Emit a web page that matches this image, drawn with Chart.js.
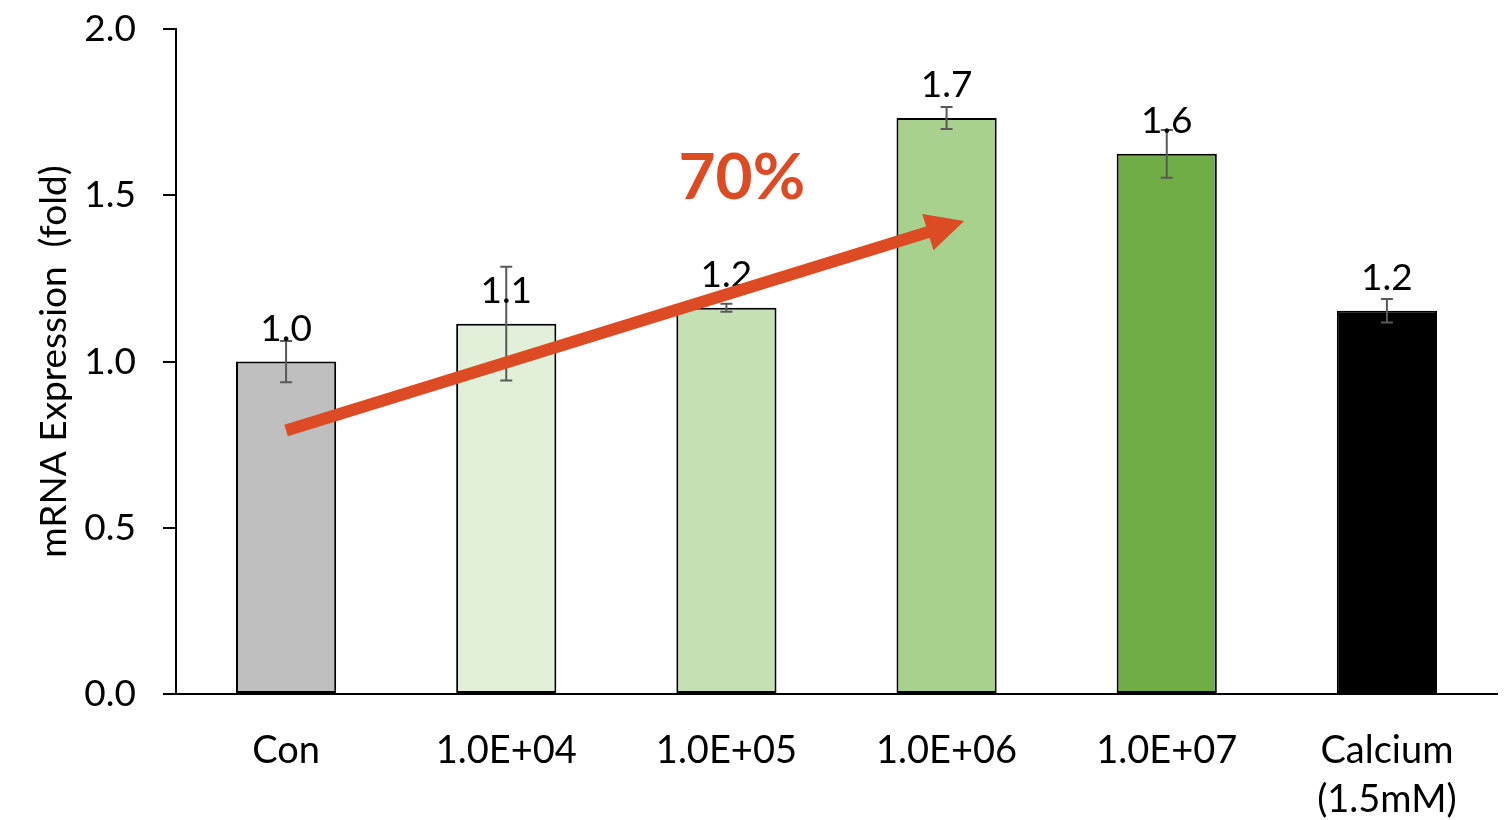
<!DOCTYPE html>
<html>
<head>
<meta charset="utf-8">
<script src="https://cdn.jsdelivr.net/npm/chart.js@4.4.1/dist/chart.umd.min.js"></script>
<style>
  html, body { margin: 0; padding: 0; background: #fff; overflow: hidden; }
  #frame { width: 1510px; height: 820px; overflow: hidden; position: relative; }
  #wrap { width: 1510px; height: 840px; position: absolute; top: -20px; left: 0; }
</style>
</head>
<body>
<div id="frame"><div id="wrap"><canvas id="chart"></canvas></div></div>
<script>
// ---------------------------------------------------------------------------
// Data
// ---------------------------------------------------------------------------
const categories = ['Con', '1.0E+04', '1.0E+05', '1.0E+06', '1.0E+07', ['Calcium', '(1.5mM)']];
const values = [1.0, 1.114, 1.162, 1.733, 1.625, 1.153];
const errors = [0.062, 0.171, 0.012, 0.033, 0.072, 0.035];
const barColors = ['#bfbfbf', '#e2efd9', '#c5e0b3', '#a9d18e', '#70ad47', '#000000'];
const yTicks = [0, 0.5, 1.0, 1.5, 2.0];

// annotation: arrow from Con to 1.0E+06, in (category index, value)
const arrowFrom = [0, 0.793];
const arrowTo = [3.08, 1.423];
const arrowLabel = '70%';
const arrowLabelAt = [2.07, 1.55];

const FONT = 'Lato, "Noto Sans", sans-serif';
const ORANGE = '#dd4b24';

// ---------------------------------------------------------------------------
// Plugins: error bars, value labels, arrow annotation
// ---------------------------------------------------------------------------
const errorBarPlugin = {
    id: 'errorBars',
    afterDatasetsDraw(chart) {
        const { ctx, scales: { x, y } } = chart;
        ctx.save();
        ctx.strokeStyle = '#595959';
        ctx.lineWidth = 2;
        values.forEach((v, i) => {
            const cx = x.getPixelForValue(i);
            const top = y.getPixelForValue(v + errors[i]);
            const bot = y.getPixelForValue(v - errors[i]);
            ctx.beginPath();
            ctx.moveTo(cx, top); ctx.lineTo(cx, bot);
            ctx.moveTo(cx - 6, top); ctx.lineTo(cx + 6, top);
            ctx.moveTo(cx - 6, bot); ctx.lineTo(cx + 6, bot);
            ctx.stroke();
        });
        ctx.restore();
    }
};

const valueLabelPlugin = {
    id: 'valueLabels',
    afterDatasetsDraw(chart) {
        const { ctx } = chart;
        const meta = chart.getDatasetMeta(0);
        ctx.save();
        ctx.fillStyle = '#000';
        ctx.font = '37px ' + FONT;
        ctx.textAlign = 'center';
        ctx.textBaseline = 'alphabetic';
        meta.data.forEach((bar, i) => {
            ctx.fillText(values[i].toFixed(1), bar.x, bar.y - 21);
        });
        ctx.restore();
    }
};

const arrowPlugin = {
    id: 'arrow',
    afterDraw(chart) {
        const { ctx, scales: { x, y } } = chart;
        const x0 = x.getPixelForValue(arrowFrom[0]);
        const y0 = y.getPixelForValue(arrowFrom[1]);
        const x1 = x.getPixelForValue(arrowTo[0]);
        const y1 = y.getPixelForValue(arrowTo[1]);
        const ang = Math.atan2(y1 - y0, x1 - x0);
        const headLen = 38, headW = 19;
        const bx = x1 - headLen * Math.cos(ang);
        const by = y1 - headLen * Math.sin(ang);
        ctx.save();
        ctx.strokeStyle = ORANGE;
        ctx.fillStyle = ORANGE;
        ctx.lineWidth = 12;
        ctx.beginPath();
        ctx.moveTo(x0, y0);
        ctx.lineTo(bx + 4 * Math.cos(ang), by + 4 * Math.sin(ang));
        ctx.stroke();
        ctx.beginPath();
        ctx.moveTo(x1, y1);
        ctx.lineTo(bx + headW * Math.sin(ang), by - headW * Math.cos(ang));
        ctx.lineTo(bx - headW * Math.sin(ang), by + headW * Math.cos(ang));
        ctx.closePath();
        ctx.fill();

        ctx.font = 'bold 64px ' + FONT;
        ctx.textAlign = 'center';
        ctx.textBaseline = 'middle';
        ctx.fillText(arrowLabel, x.getPixelForValue(arrowLabelAt[0]), y.getPixelForValue(arrowLabelAt[1]));
        ctx.restore();
    }
};

// ---------------------------------------------------------------------------
// Chart
// ---------------------------------------------------------------------------
new Chart(document.getElementById('chart'), {
    type: 'bar',
    data: {
        labels: categories,
        datasets: [{
            data: values,
            backgroundColor: barColors,
            borderColor: '#000',
            borderWidth: 2,
            borderSkipped: false,
            barPercentage: 0.455,
            categoryPercentage: 1.0,
        }],
    },
    options: {
        responsive: true,
        maintainAspectRatio: false,
        animation: false,
        layout: { padding: { top: 8, right: 13, left: 0, bottom: 0 } },
        plugins: {
            legend: { display: false },
            tooltip: { enabled: false },
        },
        scales: {
            x: {
                grid: { display: false, drawTicks: false },
                border: { color: '#000', width: 2 },
                ticks: {
                    color: '#000',
                    font: { family: FONT, size: 38, lineHeight: 1.3 },
                    padding: 32,
                    maxRotation: 0,
                    autoSkip: false,
                },
                afterFit(scale) { scale.height = 126; },
            },
            y: {
                min: 0,
                max: 2,
                afterBuildTicks(scale) { scale.ticks = yTicks.map(v => ({ value: v })); },
                grid: { drawOnChartArea: false, drawTicks: true, tickLength: 13, color: '#000', lineWidth: 2 },
                border: { color: '#000', width: 2 },
                ticks: {
                    color: '#000',
                    font: { family: FONT, size: 37 },
                    padding: 27,
                    callback: v => Number(v).toFixed(1),
                },
                title: {
                    display: true,
                    text: 'mRNA Expression  (fold)',
                    color: '#000',
                    font: { family: FONT, size: 37 },
                    padding: { top: 32, bottom: 0 },
                },
                afterFit(scale) { scale.width = 176; },
            },
        },
    },
    plugins: [errorBarPlugin, valueLabelPlugin, arrowPlugin],
});
</script>
</body>
</html>
